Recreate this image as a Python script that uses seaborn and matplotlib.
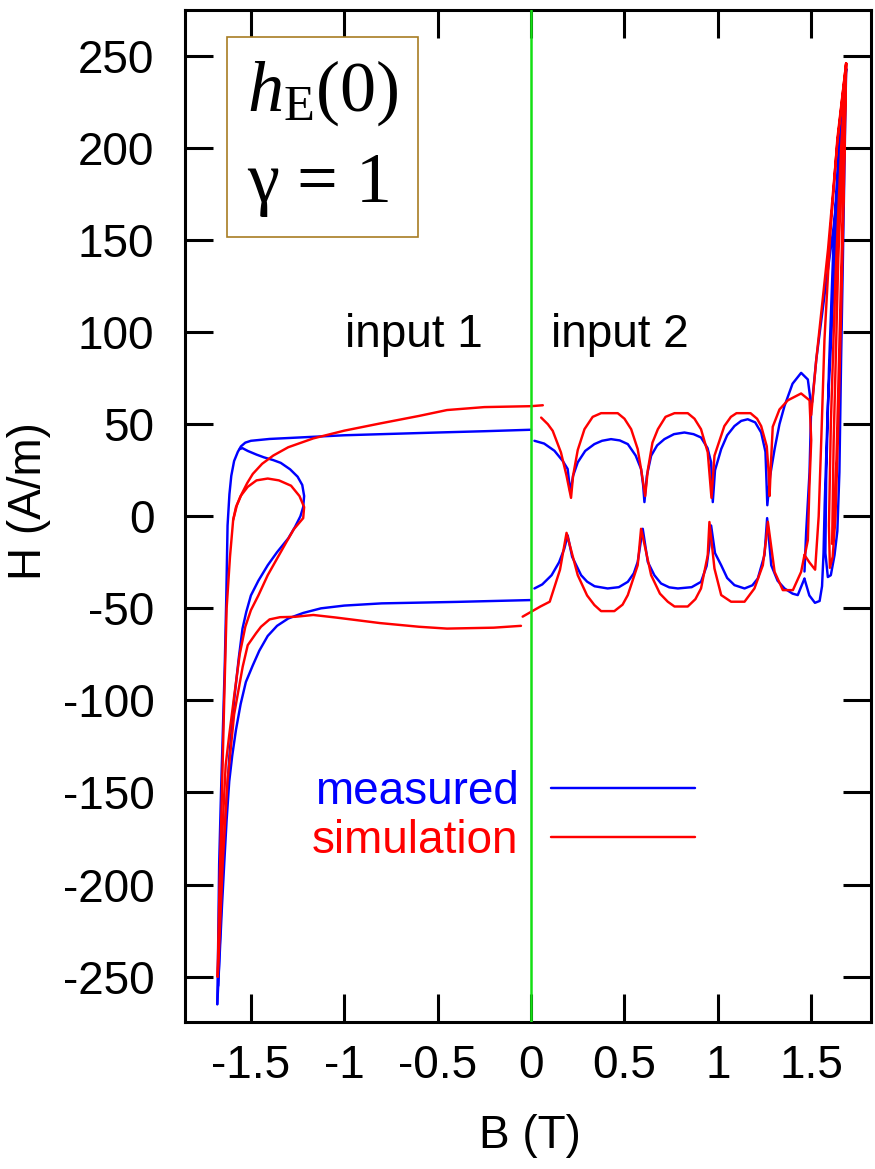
import matplotlib
matplotlib.use("Agg")
import matplotlib.pyplot as plt
import seaborn as sns

# ---- data (B in T, H in A/m) ----
# input 1, measured
MEAS_IN1_UP_B = [-1.68, -1.675, -1.67, -1.66, -1.65, -1.64, -1.632, -1.625, -1.615, -1.605, -1.59,
                 -1.57, -1.553, -1.53, -1.50, -1.40, -1.2, -1.0, -0.8, -0.5, -0.25, 0.0]
MEAS_IN1_UP_H = [-265, -230, -189, -150, -116, -81, -45, -5, 12, 22, 30,
                 35, 38, 40, 41, 42, 43, 44, 44.6, 45.5, 46.2, 47]
MEAS_IN1_MINOR_B = [-1.56, -1.545, -1.517, -1.47, -1.43, -1.38, -1.34, -1.29, -1.25, -1.225, -1.215,
                    -1.22, -1.235, -1.265, -1.30, -1.36, -1.41, -1.46, -1.50, -1.525, -1.545, -1.565,
                    -1.59, -1.615, -1.64, -1.66, -1.675]
MEAS_IN1_MINOR_H = [36.5, 37, 35.5, 33.5, 32, 30.5, 29, 25.5, 21.5, 17, 11,
                    5, 0, -6, -12, -19.5, -26.6, -35, -43, -52, -61, -77,
                    -100, -130, -170, -215, -255]
MEAS_IN1_DOWN_B = [0.0, -0.4, -0.8, -1.0, -1.125, -1.22, -1.30, -1.36, -1.41, -1.455, -1.49,
                   -1.527, -1.555, -1.58, -1.60, -1.616, -1.63, -1.643, -1.655, -1.668, -1.68]
MEAS_IN1_DOWN_H = [-45.5, -46.5, -47.3, -48.5, -50, -52.5, -55.5, -59.5, -65, -73, -81,
                   -90, -102, -116, -130, -144, -165, -189, -212, -240, -265]

# input 1, simulation
SIM_IN1_UP_B = [-1.678, -1.668, -1.655, -1.643, -1.63, -1.612, -1.595, -1.575, -1.55, -1.52, -1.49,
                -1.44, -1.38, -1.30, -1.166, -1.0, -0.809, -0.6, -0.45, -0.25, 0.0, 0.063]
SIM_IN1_UP_H = [-250, -200, -150, -100, -50, -22, -2, 6, 12, 18, 23,
                28.5, 33, 37.5, 42.3, 46.5, 50.4, 54.5, 57.7, 59.3, 59.8, 60.3]
SIM_IN1_MINOR_B = [-1.595, -1.58, -1.555, -1.517, -1.47, -1.41, -1.35, -1.285, -1.24, -1.215, -1.22,
                   -1.245, -1.27, -1.31, -1.36, -1.41, -1.46, -1.50, -1.53, -1.56, -1.59, -1.615,
                   -1.635, -1.652, -1.667, -1.678]
SIM_IN1_MINOR_H = [-2, 5, 11, 16, 19.5, 20.5, 19.5, 16.6, 11, 5, -1,
                   -4, -7, -14, -23, -32, -43, -51, -60, -75, -98, -118,
                   -135, -170, -215, -250]
SIM_IN1_DOWN_B = [-0.054, -0.2, -0.45, -0.6, -0.809, -1.044, -1.166, -1.264, -1.344, -1.40,
                  -1.446, -1.473, -1.517, -1.544, -1.59, -1.625, -1.651, -1.67, -1.678]
SIM_IN1_DOWN_H = [-59.5, -60.5, -61, -60, -58, -55, -53.6, -54.6, -54.8, -56,
                  -60, -63.6, -70, -81.7, -107.7, -143.8, -188.7, -233.8, -250]

# input 2, measured
MEAS_IN2_TOP_B = [0.018, 0.07, 0.125, 0.17, 0.196, 0.21, 0.225, 0.25, 0.29, 0.339, 0.38, 0.428,
                  0.475, 0.518, 0.56, 0.589, 0.60, 0.607, 0.62, 0.643, 0.675, 0.714, 0.765, 0.821,
                  0.87, 0.91, 0.945, 0.964, 0.973, 0.985, 1.018, 1.05, 1.089, 1.125, 1.16, 1.2,
                  1.232, 1.255, 1.265, 1.28, 1.304, 1.33, 1.357, 1.40, 1.446, 1.482, 1.50, 1.491,
                  1.473, 1.464]
MEAS_IN2_TOP_H = [41, 39.5, 35.6, 30, 25.7, 13, 22, 29.3, 35.5, 39.2, 41, 41.9,
                  41.2, 39.2, 33, 25.7, 17, 7.7, 22, 32.9, 38.5, 41.9, 44.6, 45.5,
                  44.6, 42.8, 37, 29.3, 7.7, 25, 36.5, 44, 49, 51.8, 52.7, 51,
                  45.5, 35, 6, 22, 36.5, 50, 59.9, 72, 77.9, 74.3, 60, 23.9,
                  -8.5, -30]
MEAS_IN2_BOT_B = [0.018, 0.06, 0.11, 0.15, 0.178, 0.196, 0.22, 0.268, 0.30, 0.34, 0.41, 0.47,
                  0.518, 0.55, 0.571, 0.598, 0.625, 0.66, 0.696, 0.74, 0.786, 0.86, 0.91, 0.94,
                  0.955, 0.964, 0.985, 1.018, 1.05, 1.089, 1.143, 1.185, 1.214, 1.25, 1.264,
                  1.275, 1.286, 1.32, 1.357, 1.40, 1.428, 1.464]
MEAS_IN2_BOT_H = [-39.2, -37, -32, -25, -17.6, -10.4, -22, -32, -35.5, -38, -39.2, -38.5,
                  -35.6, -31, -24.8, -6.8, -24.8, -32, -36.5, -38.6, -39.2, -38.5, -35.6, -27,
                  -15.8, -5, -20, -26.6, -33.5, -37.4, -39.2, -37.5, -33.8, -21, -1,
                  -14, -26.6, -35, -39.2, -42, -42.8, -33.8]
MEAS_IN2_SPIKE_B = [1.464, 1.49, 1.52, 1.545, 1.558, 1.566, 1.572, 1.589, 1.607, 1.63, 1.66,
                    1.687, 1.678, 1.668, 1.66, 1.651, 1.64, 1.625, 1.605, 1.589, 1.576, 1.58,
                    1.595, 1.62, 1.65, 1.687, 1.655, 1.625, 1.575, 1.527, 1.505]
MEAS_IN2_SPIKE_H = [-34, -43, -47, -46, -38, -20, 6, 60, 96, 150, 205,
                    243, 190, 130, 85, 24, -8, -21, -32, -33, -20, 20,
                    80, 150, 205, 243, 195, 161, 123, 85, 62]

# input 2, simulation
SIM_IN2_TOP_B = [0.054, 0.09, 0.116, 0.16, 0.19, 0.214, 0.225, 0.25, 0.286, 0.33, 0.375,
                 0.464, 0.50, 0.536, 0.571, 0.59, 0.611, 0.625, 0.65, 0.679, 0.72, 0.768,
                 0.839, 0.875, 0.91, 0.946, 0.966, 0.982, 1.035, 1.07, 1.10, 1.175, 1.21,
                 1.232, 1.262, 1.272, 1.277, 1.285, 1.294, 1.33, 1.375, 1.446, 1.491, 1.50,
                 1.49, 1.482, 1.464]
SIM_IN2_TOP_H = [53.6, 50, 46.4, 34.7, 22, 10, 22, 36, 47.3, 54, 56,
                 56, 53, 47.3, 36.5, 25, 11, 25, 40, 47.3, 54, 56,
                 56, 53, 47.3, 34.7, 10, 32.9, 49, 54, 56, 56, 53,
                 49, 38, 24, 11, 30, 48.6, 58, 63, 66.7, 63, 41.3,
                 15, -13, -22]
SIM_IN2_BOT_B = [-0.045, 0.05, 0.10, 0.155, 0.19, 0.25, 0.30, 0.339, 0.375, 0.446, 0.49,
                 0.518, 0.571, 0.589, 0.643, 0.69, 0.732, 0.768, 0.839, 0.88, 0.91, 0.946,
                 0.955, 0.982, 1.018, 1.071, 1.143, 1.196, 1.241, 1.259, 1.268, 1.304, 1.348,
                 1.402, 1.446, 1.464]
SIM_IN2_BOT_H = [-54.5, -49, -46.4, -29, -9, -32, -43, -48.2, -51.5, -51.5, -48,
                 -42.8, -26.6, -6.8, -32, -42, -46.4, -49, -49, -45, -39.2, -21.2,
                 -3.1, -28.4, -42.8, -46.4, -46.4, -39.2, -26.6, -12.2, -3, -30.2, -40.1,
                 -40.1, -30.2, -21]
SIM_IN2_SPIKE_B = [1.464, 1.49, 1.521, 1.54, 1.555, 1.571, 1.60, 1.64, 1.687, 1.675, 1.66,
                   1.645, 1.63, 1.615, 1.60, 1.595, 1.605, 1.63, 1.66, 1.687, 1.67, 1.65,
                   1.635, 1.62, 1.612, 1.62, 1.645, 1.687, 1.64, 1.59, 1.527, 1.50]
SIM_IN2_SPIKE_H = [-21, -25, -29, 0, 45, 96, 150, 205, 246, 180, 110,
                   50, 0, -22, -28, -5, 50, 130, 200, 246, 170, 90,
                   30, -10, -15, 40, 140, 246, 203, 145, 85, 55]

X_TICKS = [-1.5, -1.0, -0.5, 0.0, 0.5, 1.0, 1.5]
X_TICK_LABELS = ["-1.5", "-1", "-0.5", "0", "0.5", "1", "1.5"]
Y_TICKS = [-250, -200, -150, -100, -50, 0, 50, 100, 150, 200, 250]
SERIES_LABELS = ["measured", "simulation"]
INPUT_LABELS = ["input 1", "input 2"]
INPUT_LABEL_POS = [(-0.627, 92), (0.477, 92)]

BLUE = "#0000ff"
RED = "#ff0000"
GREEN = "#14e014"

sns.set_theme(style="ticks")
plt.rcParams["font.family"] = ["Liberation Sans", "DejaVu Sans"]
plt.rcParams["text.color"] = "black"
plt.rcParams["axes.labelcolor"] = "black"
plt.rcParams["xtick.color"] = "black"
plt.rcParams["ytick.color"] = "black"
plt.rcParams["mathtext.fontset"] = "custom"
plt.rcParams["mathtext.rm"] = "Liberation Serif"
plt.rcParams["mathtext.it"] = "Liberation Serif:italic"

fig = plt.figure(figsize=(8.75, 11.69), dpi=100)
ax = fig.add_axes([0.2114, 0.126, 0.784, 0.8655])

meas = [(MEAS_IN1_UP_B, MEAS_IN1_UP_H), (MEAS_IN1_MINOR_B, MEAS_IN1_MINOR_H),
        (MEAS_IN1_DOWN_B, MEAS_IN1_DOWN_H), (MEAS_IN2_TOP_B, MEAS_IN2_TOP_H),
        (MEAS_IN2_BOT_B, MEAS_IN2_BOT_H), (MEAS_IN2_SPIKE_B, MEAS_IN2_SPIKE_H)]
sim = [(SIM_IN1_UP_B, SIM_IN1_UP_H), (SIM_IN1_MINOR_B, SIM_IN1_MINOR_H),
       (SIM_IN1_DOWN_B, SIM_IN1_DOWN_H), (SIM_IN2_TOP_B, SIM_IN2_TOP_H),
       (SIM_IN2_BOT_B, SIM_IN2_BOT_H), (SIM_IN2_SPIKE_B, SIM_IN2_SPIKE_H)]

for segs, color, name in [(meas, BLUE, SERIES_LABELS[0]), (sim, RED, SERIES_LABELS[1])]:
    for i, (b, h) in enumerate(segs):
        sns.lineplot(x=b, y=h, sort=False, estimator=None, color=color, lw=1.75,
                     ax=ax, label=name if i == 0 else None, legend=False)

ax.axvline(0, color=GREEN, lw=1.8, zorder=5)

ax.set_xlim(-1.853, 1.82)
ax.set_ylim(-274.5, 275)
ax.set_xticks(X_TICKS)
ax.set_xticklabels(X_TICK_LABELS)
ax.set_yticks(Y_TICKS)
ax.set_yticklabels([str(v) for v in Y_TICKS])

for s in ax.spines.values():
    s.set_visible(True)
    s.set_linewidth(2.2)
    s.set_color("black")
ax.tick_params(direction="in", length=20, width=2.2, colors="black", labelsize=33,
               top=True, right=True)
ax.tick_params(axis="x", pad=16)
ax.tick_params(axis="y", pad=22)

ax.set_xlabel("B (T)", fontsize=33, color="black")
ax.set_ylabel("H (A/m)", fontsize=33, color="black")
ax.xaxis.set_label_coords(0.503, -0.091)
ax.yaxis.set_label_coords(-0.195, 0.515)

for txt, (bx, hy) in zip(INPUT_LABELS, INPUT_LABEL_POS):
    ax.text(bx, hy, txt, fontsize=33, ha="center", va="baseline", color="black")

ax.text(0.0904, 0.952, "$h_{\\mathrm{E}}$(0)\n\u03b3 = 1", transform=ax.transAxes,
        fontsize=52, family="Liberation Serif", ha="left", va="top", linespacing=1.48,
        color="black",
        bbox=dict(boxstyle="square,pad=0.27", fc="white", ec="#a87d22", lw=1.2), zorder=6)

handles, labels = ax.get_legend_handles_labels()
ax.legend(handles, labels, loc="center right", bbox_to_anchor=(0.7434, 0.2028),
          frameon=False, markerfirst=False, fontsize=33, labelcolor=[BLUE, RED],
          handlelength=3.15, handletextpad=0.7, labelspacing=0.12, borderpad=0,
          borderaxespad=0)

fig.savefig("out.png", dpi=100, facecolor="white")
